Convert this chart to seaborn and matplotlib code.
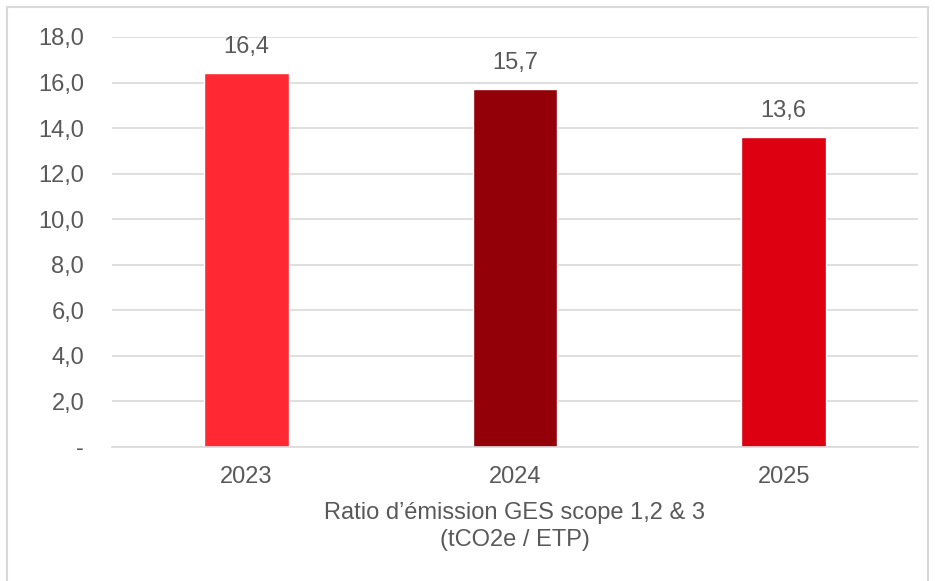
import pandas as pd
import seaborn as sns
import matplotlib.pyplot as plt
from matplotlib.patches import Rectangle

years = ['2023', '2024', '2025']
ratios = [16.4, 15.7, 13.6]
bar_colors = ['#FF2833', '#930008', '#DC0010']
y_ticks = [0, 2, 4, 6, 8, 10, 12, 14, 16, 18]

df = pd.DataFrame({'year': years, 'ratio': ratios})

sns.set_style('white')
plt.rcParams['font.family'] = ['Liberation Sans', 'DejaVu Sans']
text_col = '#595959'
grid_col = '#D9D9D9'
fs = 17

fig = plt.figure(figsize=(9.35, 5.81), dpi=100)
ax = fig.add_axes([112 / 935, 1 - 447 / 581, 806 / 935, 410 / 581])

sns.barplot(data=df, x='year', y='ratio', hue='year', palette=bar_colors,
            width=0.316, legend=False, ax=ax, saturation=1)

ax.set_ylim(0, 18)
ax.set_yticks(y_ticks)
ax.set_yticklabels(['-' if v == 0 else f'{v:.1f}'.replace('.', ',') for v in y_ticks])
ax.yaxis.grid(True, color=grid_col, linewidth=1.2)
ax.set_axisbelow(True)
for s in ['top', 'right', 'left']:
    ax.spines[s].set_visible(False)
ax.spines['bottom'].set_color(grid_col)
ax.spines['bottom'].set_linewidth(1.2)
ax.tick_params(axis='both', length=0, labelsize=fs, colors=text_col)
ax.tick_params(axis='y', pad=20)
ax.tick_params(axis='x', pad=14)

for i, v in enumerate(ratios):
    ax.annotate(f'{v:.1f}'.replace('.', ','), (i, v), xytext=(0, 11),
                textcoords='offset points', ha='center', va='bottom',
                fontsize=fs, color=text_col)

ax.set_ylabel('')
ax.set_xlabel("Ratio d\u2019émission GES scope 1,2 & 3\n(tCO2e / ETP)",
              fontsize=fs, color=text_col, labelpad=10, linespacing=1.3)

fig.patches.append(Rectangle((7 / 935, -0.01), 921 / 935, 1 - 7 / 581 + 0.01,
                             transform=fig.transFigure, fill=False,
                             edgecolor=grid_col, linewidth=1.5))

fig.savefig('out.png', dpi=100, facecolor='white')
